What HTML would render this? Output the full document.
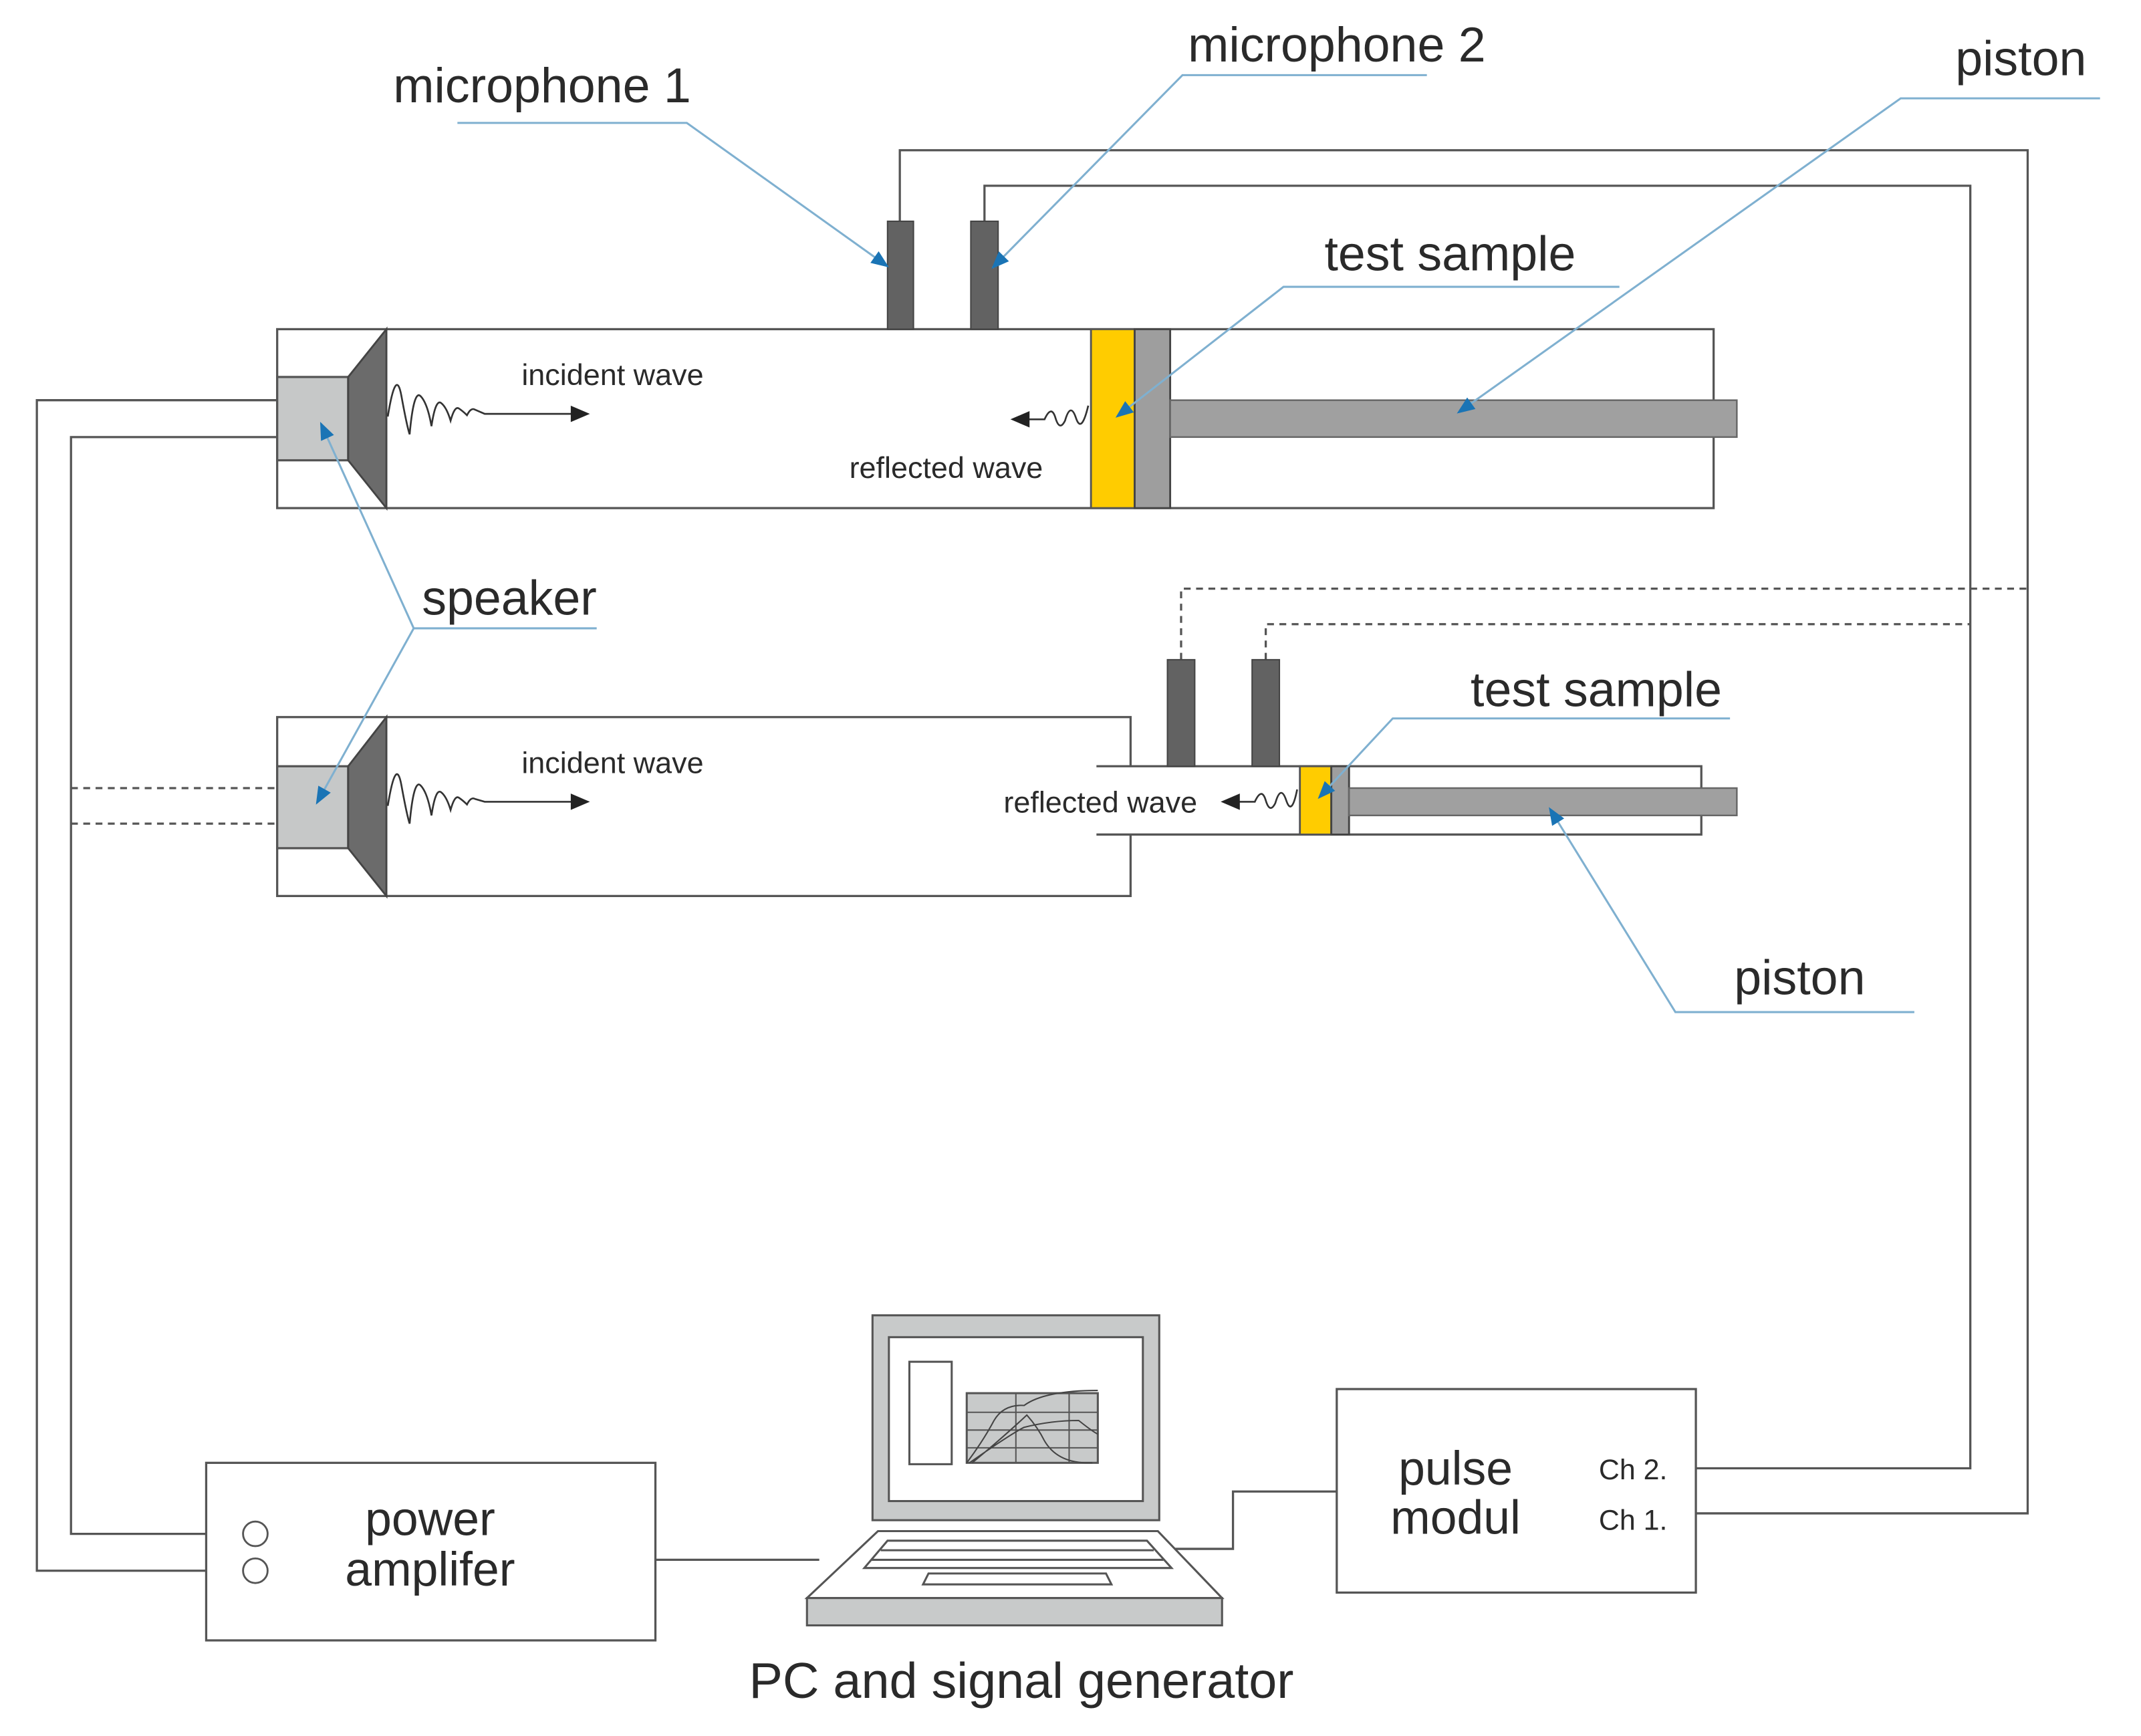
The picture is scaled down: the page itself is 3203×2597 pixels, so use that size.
<!DOCTYPE html>
<html><head><meta charset="utf-8"><style>html,body{margin:0;padding:0;background:#fff}svg{display:block}text{font-family:"Liberation Sans",Arial,sans-serif;fill:#2a2a2a}</style></head>
<body>
<svg width="3203" height="2597" viewBox="0 0 1568 1271" preserveAspectRatio="none" xmlns="http://www.w3.org/2000/svg">
<defs>
<marker id="ab" viewBox="0 0 10 10" refX="9" refY="5" markerWidth="15" markerHeight="13" orient="auto" markerUnits="userSpaceOnUse"><path d="M0,1 L10,5 L0,9 z" fill="#1a74b5"/></marker>
</defs>
<g stroke="#555" stroke-width="1.6" fill="none">
<polyline points="659,162 659,110 1485,110 1485,1108 1242,1108"/>
<polyline points="721,162 721,136 1443,136 1443,1075 1242,1075"/>
<polyline points="203,293 27,293 27,1150 178,1150"/>
<polyline points="203,320 52,320 52,1123 178,1123"/>
<g stroke-dasharray="5,4">
<polyline points="865,483 865,431 1485,431"/>
<polyline points="927,483 927,457 1443,457"/>
<line x1="52" y1="577" x2="203" y2="577"/>
<line x1="52" y1="603" x2="203" y2="603"/>
</g>
<line x1="480" y1="1142" x2="600" y2="1142"/>
<polyline points="860,1134 903,1134 903,1092 979,1092"/>
</g>
<rect x="203" y="241" width="1052" height="131" fill="#fff" stroke="#555" stroke-width="1.6"/>
<rect x="203" y="276" width="52" height="61" fill="#c6c8c8" stroke="#555" stroke-width="1.6"/>
<polygon points="255,276 283,241 283,372 255,337" fill="#6b6b6b" stroke="#444" stroke-width="1.4"/>
<rect x="650" y="162" width="19" height="79" fill="#626262" stroke="#444"/>
<rect x="711" y="162" width="20" height="79" fill="#626262" stroke="#444"/>
<rect x="799" y="241" width="32" height="131" fill="#ffcc00" stroke="#555" stroke-width="1.4"/>
<rect x="831" y="241" width="26" height="131" fill="#9e9e9e" stroke="#444" stroke-width="1.4"/>
<rect x="857" y="293" width="415" height="27" fill="#a0a0a0" stroke="#666" stroke-width="1.2"/>
<path d="M284,305 Q290,268 294,290 T300,318 Q303,285 308,290 T316,312 Q319,292 323,295 T330,308 Q333,297 336,299 T342,304 Q345,298 348,300 L355,303 L420,303" fill="none" stroke="#333" stroke-width="1.3"/>
<polygon points="418,297 432,303 418,309" fill="#222"/>
<text x="382" y="282" font-size="22">incident wave</text>
<path d="M797,297 Q792,318 788,306 T780,308 Q776,316 773,306 T765,307 L752,307" fill="none" stroke="#333" stroke-width="1.3"/>
<polygon points="754,301 740,307 754,313" fill="#222"/>
<text x="622" y="350" font-size="22">reflected wave</text>
<polyline points="828,561 828,525 203,525 203,656 828,656 828,611" fill="#fff" stroke="#555" stroke-width="1.6"/>
<polyline points="803,561 1246,561 1246,611 803,611" fill="none" stroke="#555" stroke-width="1.6"/>
<rect x="203" y="561" width="52" height="60" fill="#c6c8c8" stroke="#555" stroke-width="1.6"/>
<polygon points="255,561 283,525 283,656 255,621" fill="#6b6b6b" stroke="#444" stroke-width="1.4"/>
<rect x="855" y="483" width="20" height="78" fill="#626262" stroke="#444"/>
<rect x="917" y="483" width="20" height="78" fill="#626262" stroke="#444"/>
<rect x="952" y="561" width="23" height="50" fill="#ffcc00" stroke="#555" stroke-width="1.4"/>
<rect x="975" y="561" width="13" height="50" fill="#9e9e9e" stroke="#444" stroke-width="1.4"/>
<rect x="988" y="577" width="284" height="20" fill="#a0a0a0" stroke="#666" stroke-width="1.2"/>
<path d="M284,590 Q290,553 294,575 T300,603 Q303,570 308,575 T316,597 Q319,577 323,580 T330,593 Q333,582 336,584 T342,589 Q345,583 348,585 L355,587 L420,587" fill="none" stroke="#333" stroke-width="1.3"/>
<polygon points="418,581 432,587 418,593" fill="#222"/>
<text x="382" y="566" font-size="22">incident wave</text>
<path d="M950,578 Q946,598 942,586 T934,588 Q930,596 927,586 T919,587 L906,587" fill="none" stroke="#333" stroke-width="1.3"/>
<polygon points="908,581 894,587 908,593" fill="#222"/>
<text x="735" y="595" font-size="22">reflected wave</text>
<g stroke="#7fb0d0" stroke-width="1.5" fill="none">
<polyline points="335,90 503,90 650,195" marker-end="url(#ab)"/>
<polyline points="1045,55 866,55 727,196" marker-end="url(#ab)"/>
<polyline points="1538,72 1392,72 1068,302" marker-end="url(#ab)"/>
<polyline points="1186,210 940,210 818,305" marker-end="url(#ab)"/>
<polyline points="437,460 303,460 235,310" marker-end="url(#ab)"/>
<polyline points="303,460 232,588" marker-end="url(#ab)"/>
<polyline points="1267,526 1020,526 966,584" marker-end="url(#ab)"/>
<polyline points="1402,741 1227,741 1135,592" marker-end="url(#ab)"/>
</g>
<g font-size="36">
<text x="288" y="75">microphone 1</text>
<text x="870" y="45">microphone 2</text>
<text x="1432" y="55">piston</text>
<text x="970" y="198">test sample</text>
<text x="309" y="450">speaker</text>
<text x="1077" y="517">test sample</text>
<text x="1270" y="728">piston</text>
</g>
<rect x="151" y="1071" width="329" height="130" fill="#fff" stroke="#555" stroke-width="1.6"/>
<circle cx="187" cy="1123" r="9" fill="#fff" stroke="#555" stroke-width="1.4"/>
<circle cx="187" cy="1150" r="9" fill="#fff" stroke="#555" stroke-width="1.4"/>
<text x="315" y="1124" font-size="35" text-anchor="middle">power</text>
<text x="315" y="1161" font-size="35" text-anchor="middle">amplifer</text>
<rect x="979" y="1017" width="263" height="149" fill="#fff" stroke="#555" stroke-width="1.6"/>
<text x="1066" y="1087" font-size="35" text-anchor="middle">pulse</text>
<text x="1066" y="1123" font-size="35" text-anchor="middle">modul</text>
<text x="1196" y="1083" font-size="21" text-anchor="middle">Ch 2.</text>
<text x="1196" y="1120" font-size="21" text-anchor="middle">Ch 1.</text>
<g stroke="#555" stroke-width="1.5">
<rect x="639" y="963" width="210" height="150" fill="#c8caca"/>
<rect x="651" y="979" width="186" height="120" fill="#fff"/>
<rect x="666" y="997" width="31" height="75" fill="#fff"/>
<rect x="708" y="1020" width="96" height="51" fill="#c8caca"/>
<g stroke-width="1"><line x1="744" y1="1020" x2="744" y2="1071"/><line x1="783" y1="1020" x2="783" y2="1071"/><line x1="708" y1="1047" x2="804" y2="1047"/><line x1="708" y1="1034" x2="804" y2="1034"/><line x1="708" y1="1060" x2="804" y2="1060"/></g>
<path d="M708,1071 Q720,1055 728,1040 Q735,1028 750,1029 Q765,1018 804,1018 M712,1071 Q735,1052 752,1036 Q760,1045 765,1055 Q775,1072 800,1071 M710,1071 Q740,1050 750,1045 Q770,1040 790,1040 Q800,1048 804,1050" fill="none" stroke="#444" stroke-width="1"/>
<polygon points="643,1121 848,1121 895,1170 591,1170" fill="#fff"/>
<rect x="591" y="1170" width="304" height="20" fill="#c8caca"/>
<polygon points="650,1128 840,1128 858,1148 633,1148" fill="#fff"/>
<line x1="645" y1="1135" x2="845" y2="1135"/>
<line x1="638" y1="1142" x2="852" y2="1142"/>
<polygon points="680,1152 810,1152 814,1160 676,1160" fill="#fff"/>
</g>
<text x="748" y="1243" font-size="37" text-anchor="middle">PC and signal generator</text>
</svg>
</body></html>
